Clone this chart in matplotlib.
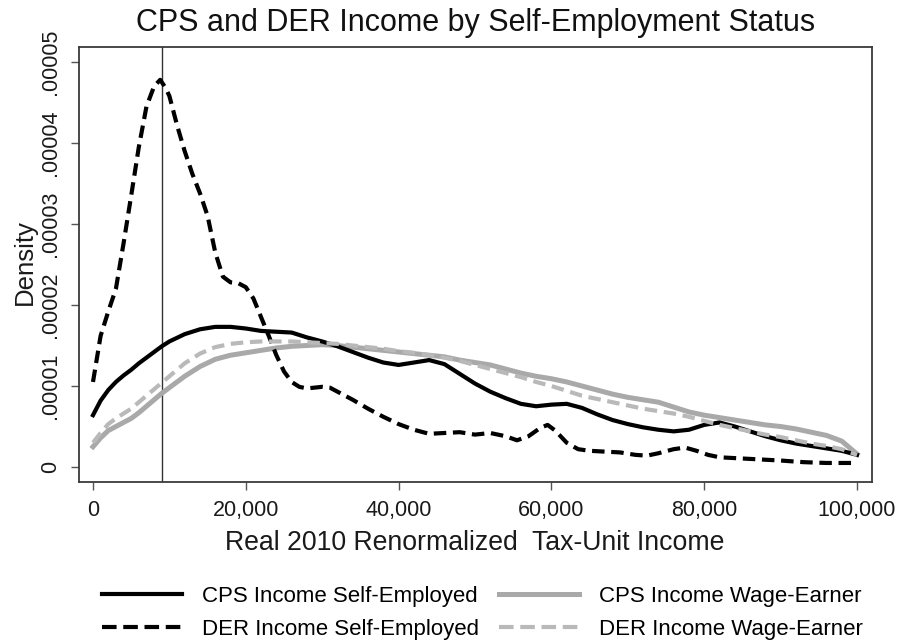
import matplotlib
matplotlib.use("Agg")
import matplotlib.pyplot as plt
from matplotlib.lines import Line2D
from matplotlib.ticker import FixedLocator

plt.rcParams['font.family'] = ['Liberation Sans', 'DejaVu Sans']

# kernel density estimates, income in dollars, density in units of 1e-5
cps_se_x = [0, 1000, 2000, 3000, 4000, 5000, 6000, 7000, 8000, 9000, 10000, 12000,
            14000, 16000, 18000, 20000, 22000, 24000, 26000, 28000, 30000, 32000,
            34000, 36000, 38000, 40000, 42000, 44000, 46000, 48000, 50000, 52000,
            54000, 56000, 58000, 60000, 62000, 64000, 66000, 68000, 70000, 72000,
            74000, 76000, 78000, 80000, 82000, 84000, 86000, 88000, 90000, 92000,
            94000, 96000, 98000, 100000]
cps_se_y = [0.64, 0.82, 0.95, 1.05, 1.13, 1.20, 1.28, 1.35, 1.42, 1.49, 1.55, 1.64,
            1.70, 1.73, 1.73, 1.71, 1.68, 1.67, 1.66, 1.60, 1.55, 1.49,
            1.42, 1.35, 1.29, 1.26, 1.29, 1.32, 1.27, 1.15, 1.03, 0.93,
            0.85, 0.78, 0.75, 0.77, 0.78, 0.73, 0.65, 0.58, 0.53, 0.49,
            0.46, 0.44, 0.46, 0.52, 0.55, 0.50, 0.44, 0.38, 0.33, 0.29,
            0.26, 0.23, 0.20, 0.15]

der_se_x = [0, 1000, 2000, 3000, 4000, 5000, 6000, 7000, 8000, 8800, 9500, 10000,
            11000, 12000, 13000, 14000, 15000, 16000, 17000, 18000, 19000, 20000,
            21000, 22000, 23000, 24000, 25000, 26000, 27000, 28000, 29000, 30000,
            31000, 32000, 34000, 36000, 38000, 40000, 42000, 44000, 46000, 48000,
            50000, 52000, 54000, 55500, 57000, 58500, 59500, 60500, 62000, 63500,
            65000, 67000, 69000, 71000, 72500, 74000, 76000, 77500, 79000, 80500,
            82000, 84000, 86000, 88000, 90000, 93000, 96000, 99500]
der_se_y = [1.05, 1.62, 1.92, 2.20, 2.76, 3.35, 3.95, 4.45, 4.70, 4.78, 4.68, 4.58,
            4.22, 3.90, 3.62, 3.38, 3.10, 2.65, 2.35, 2.28, 2.27, 2.22,
            2.08, 1.85, 1.62, 1.38, 1.18, 1.05, 0.99, 0.97, 0.98, 0.99,
            0.98, 0.93, 0.83, 0.72, 0.62, 0.53, 0.46, 0.41, 0.42, 0.43,
            0.40, 0.42, 0.38, 0.33, 0.38, 0.48, 0.52, 0.45, 0.30, 0.22,
            0.20, 0.19, 0.18, 0.15, 0.14, 0.17, 0.22, 0.24, 0.20, 0.15,
            0.12, 0.11, 0.10, 0.09, 0.08, 0.06, 0.05, 0.05]

cps_we_x = [0, 1000, 2000, 3000, 4000, 5000, 6000, 7000, 8000, 9000, 10000, 12000,
            14000, 16000, 18000, 20000, 22000, 24000, 26000, 28000, 30000, 32000,
            34000, 36000, 38000, 40000, 42000, 44000, 46000, 48000, 50000, 52000,
            54000, 56000, 58000, 60000, 62000, 64000, 66000, 68000, 70000, 72000,
            74000, 76000, 78000, 80000, 82000, 84000, 86000, 88000, 90000, 92000,
            94000, 96000, 98000, 100000]
cps_we_y = [0.25, 0.36, 0.45, 0.50, 0.55, 0.60, 0.67, 0.75, 0.83, 0.91, 0.98, 1.12,
            1.24, 1.33, 1.38, 1.41, 1.44, 1.47, 1.49, 1.50, 1.51, 1.50,
            1.48, 1.46, 1.44, 1.42, 1.40, 1.38, 1.36, 1.32, 1.29, 1.26,
            1.21, 1.16, 1.12, 1.09, 1.05, 1.00, 0.95, 0.90, 0.86, 0.83,
            0.80, 0.74, 0.68, 0.64, 0.61, 0.58, 0.55, 0.52, 0.50, 0.47,
            0.43, 0.39, 0.32, 0.16]

der_we_x = cps_we_x
der_we_y = [0.30, 0.42, 0.53, 0.60, 0.66, 0.72, 0.80, 0.88, 0.96, 1.04, 1.12, 1.28,
            1.40, 1.48, 1.52, 1.54, 1.55, 1.55, 1.55, 1.54, 1.53, 1.52,
            1.50, 1.48, 1.46, 1.43, 1.41, 1.38, 1.35, 1.31, 1.26, 1.21,
            1.16, 1.11, 1.05, 1.00, 0.94, 0.88, 0.84, 0.80, 0.76, 0.72,
            0.69, 0.66, 0.62, 0.57, 0.52, 0.48, 0.44, 0.40, 0.37, 0.33,
            0.29, 0.26, 0.22, 0.15]

cutoff = 9000
xticks = [0, 20000, 40000, 60000, 80000, 100000]
xticklabels = ['0', '20,000', '40,000', '60,000', '80,000', '100,000']
yticks = [0, 1, 2, 3, 4, 5]
yticklabels = ['0', '.00001', '.00002', '.00003', '.00004', '.00005']

W, H = 904, 644
fig = plt.figure(figsize=(W / 100, H / 100), dpi=100)
ax = fig.add_axes([79 / W, 1 - 482 / H, (872 - 79) / W, (482 - 47) / H])

gray1 = '#a9a9a9'
gray2 = '#b9b9b9'
ax.plot(cps_we_x, cps_we_y, color=gray1, lw=3.6, zorder=2)
ax.plot(cps_se_x, cps_se_y, color='black', lw=3.0, zorder=3)
ax.plot(der_se_x, der_se_y, color='black', lw=3.0, dashes=(3, 1.6), zorder=4)
ax.plot(der_we_x, der_we_y, color=gray2, lw=3.0, dashes=(3, 1.6), zorder=5)
ax.axvline(cutoff, color='#333333', lw=1.0, zorder=1)

ax.set_xlim(-1830, 101960)
ax.set_ylim(-0.185, 5.185)
ax.xaxis.set_major_locator(FixedLocator(xticks))
ax.set_xticklabels(xticklabels)
ax.yaxis.set_major_locator(FixedLocator(yticks))
ax.set_yticklabels(yticklabels, rotation=90, va='center')
ax.tick_params(axis='both', length=6, width=1, color='#555555',
               labelsize=15.5, labelcolor='#1a1a1a')
ax.tick_params(axis='x', pad=7)
ax.tick_params(axis='y', pad=7)
for s in ax.spines.values():
    s.set_color('#3a3a3a')
    s.set_linewidth(1.3)

fig.text(476 / W, 1 - 23 / H, 'CPS and DER Income by Self-Employment Status',
         ha='center', va='center', fontsize=22, color='#111111')
fig.text(475 / W, 1 - 543 / H, 'Real 2010 Renormalized  Tax-Unit Income',
         ha='center', va='center', fontsize=19.2, color='#1a1a1a')
fig.text(25 / W, 1 - 262 / H, 'Density', rotation=90,
         ha='center', va='center', fontsize=18.5, color='#1a1a1a')

handles = [
    Line2D([], [], color='black', lw=3.0),
    Line2D([], [], color='black', lw=3.0, dashes=(3.5, 1.6)),
    Line2D([], [], color=gray1, lw=3.6),
    Line2D([], [], color=gray2, lw=3.0, dashes=(3.5, 1.6)),
]
labels = ['CPS Income Self-Employed', 'DER Income Self-Employed',
          'CPS Income Wage-Earner', 'DER Income Wage-Earner']
fs = 16
fpx = fs * 100 / 72
fig.legend(handles, labels, ncol=2, loc='center',
           bbox_to_anchor=(482 / W, 1 - 613 / H), frameon=False, fontsize=fs,
           handlelength=80 / fpx, handletextpad=20 / fpx, columnspacing=20 / fpx,
           labelspacing=0.55, borderpad=0, borderaxespad=0)

fig.savefig('out.png', dpi=100)
